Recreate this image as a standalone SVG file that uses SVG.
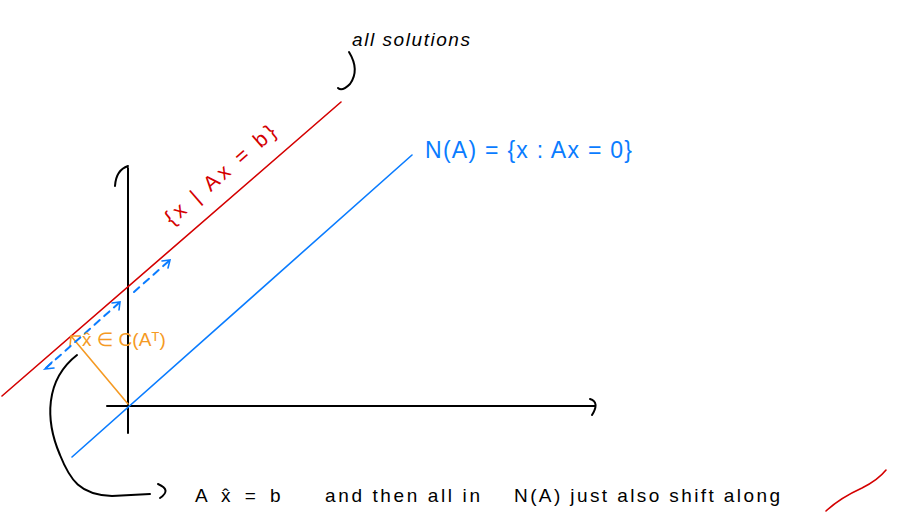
<svg xmlns="http://www.w3.org/2000/svg" width="902" height="532" viewBox="0 0 902 532">
<defs>
<style>
.k{stroke:#000;fill:none;stroke-width:2;stroke-linecap:round;stroke-linejoin:round}
.r{stroke:#d40000;fill:none;stroke-width:1.6;stroke-linecap:round}
.b{stroke:#0a7cff;fill:none;stroke-width:1.6;stroke-linecap:round}
.bd{stroke:#0a7cff;fill:none;stroke-width:2;stroke-dasharray:7 6;stroke-linecap:round}
.o{stroke:#f59a23;fill:none;stroke-width:1.6;stroke-linecap:round}
text{font-family:"Liberation Sans","DejaVu Sans",sans-serif}
.tk{fill:#000;font-size:19px}
.tb{fill:#0a7cff;font-size:23px}
.tr{fill:#d40000;font-size:21px}
.to{fill:#f59a23;font-size:19px}
</style>
</defs>
<rect width="902" height="532" fill="#fff"/>
<g id="axes">
<path class="k" d="M128 433 L128 168 M115 186 Q116 170 128 166"/>
<path class="k" d="M107 406 L595 406 M590 399 Q600 402 592 415"/>
</g>
<g id="solution-line">
<line class="r" x1="2" y1="396" x2="341" y2="102"/>
<text class="tr" transform="translate(172,226) rotate(-41)" textLength="140" lengthAdjust="spacing">{x | Ax = b}</text>
</g>
<g id="nullspace-line">
<line class="b" x1="72" y1="457" x2="412" y2="155"/>
<text class="tb" x="425" y="158" textLength="207" lengthAdjust="spacing">N(A) = {x : Ax = 0}</text>
</g>
<g id="connectors">
<path class="o" d="M128 404 L71 336 M71 336 L70 346 M71 336 L80 336"/>
<path class="bd" d="M46 368 L120 302"/>
<path class="b" stroke-width="2" d="M52 362 L45 369 L54 368 M112 303 L120 302 L119 310"/>
<path class="bd" d="M134 292 L170 260"/>
<path class="b" stroke-width="2" d="M162 261 L170 260 L168 268"/>
<path class="k" d="M77 355 C45 380 45 420 60 455 C70 480 80 495 112 496 L150 494 M158 484 Q172 490 160 498"/>
<path class="k" d="M349 52 Q360 70 350 84 Q342 92 338 88"/>
<path class="r" stroke-width="2" d="M826 511 Q840 498 862 488 Q878 480 886 470"/>
</g>
<g id="labels">
<text class="tk" x="352" y="46" font-style="italic" textLength="118" lengthAdjust="spacing">all solutions</text>
<text class="to" x="82" y="346">x̂ ∈ C(Aᵀ)</text>
<text class="tk" x="195" y="502" style="word-spacing:9px">A x̂ = b</text>
<text class="tk" x="325" y="502" textLength="155" lengthAdjust="spacing">and then all in</text>
<text class="tk" x="514" y="502" textLength="266" lengthAdjust="spacing">N(A) just also shift along</text>
</g>
</svg>
